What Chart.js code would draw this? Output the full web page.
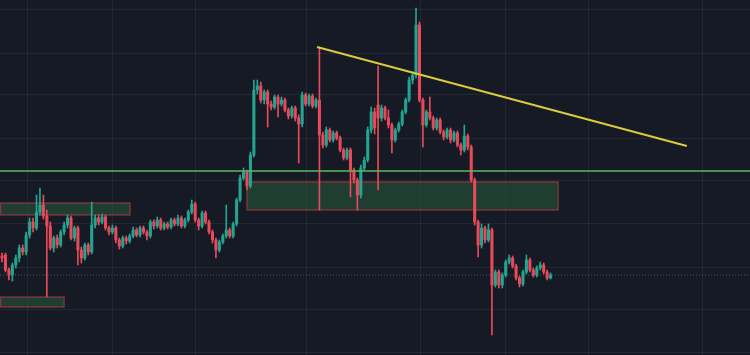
<!DOCTYPE html>
<html>
<head>
<meta charset="utf-8">
<script src="https://cdn.jsdelivr.net/npm/chart.js@4.4.1/dist/chart.umd.min.js"></script>
<style>
html, body { margin: 0; padding: 0; background: #161a25; }
#wrap { width: 750px; height: 355px; }
</style>
</head>
<body>
<div id="wrap"><canvas id="chart" width="750" height="355"></canvas></div>
<script>
// candle values, one entry per bar (index = bar number)
const opens = [
    144,145,130,125,135,142,152,148,165,178,
    172,188,195,184,174,152,162,155,168,175,
    182,162,172,150,142,155,148,175,182,178,
    183,172,168,172,160,154,162,159,164,170,
    165,172,168,164,178,174,180,172,176,173,
    180,176,182,174,180,188,196,180,174,187,
    178,168,160,150,158,164,170,164,176,200,
    222,228,214,245,310,314,300,308,296,293,
    303,296,300,290,284,292,282,276,305,296,
    304,294,300,265,255,270,260,267,262,250,
    242,250,230,220,205,232,240,270,288,295,
    282,292,282,275,260,270,276,288,300,320,
    325,375,300,275,288,282,272,280,268,263,
    270,260,267,255,250,264,253,220,178,155,
    172,160,170,115,128,115,125,138,142,134,
    122,116,128,140,130,125,132,135,128,122
];
const highs = [
    147,147,132,137,145,155,155,168,182,182,
    205,212,205,190,178,164,165,170,178,185,
    184,174,174,153,157,157,198,185,185,186,
    185,174,175,174,162,164,164,166,173,172,
    174,174,170,180,180,183,182,178,178,182,
    182,185,184,182,190,200,198,182,189,189,
    180,170,162,160,166,195,172,178,202,225,
    232,230,248,320,320,318,310,310,299,305,
    305,303,302,292,294,294,285,308,307,306,
    306,302,353,268,273,272,269,269,264,252,
    252,252,232,222,235,243,273,293,292,334,
    295,294,290,277,272,278,290,302,323,328,
    392,378,302,290,303,284,282,282,270,272,
    272,269,269,257,275,266,255,222,180,176,
    174,176,172,130,130,127,140,145,144,136,
    124,130,145,142,132,134,138,137,130,127
];
const lows = [
    138,128,120,119,132,138,145,145,162,168,
    170,185,181,103,150,148,152,153,165,172,
    160,159,135,137,140,145,146,172,175,176,
    170,165,166,157,151,152,156,157,162,163,
    163,166,160,162,171,172,170,170,171,171,
    174,174,172,172,178,186,178,170,172,176,
    166,157,142,148,156,162,162,162,174,198,
    220,210,212,243,306,297,296,273,290,291,
    283,294,288,281,282,279,237,273,294,294,
    292,292,190,252,253,258,258,260,248,240,
    240,203,217,190,202,230,238,267,266,210,
    279,280,272,247,258,268,274,286,298,316,
    322,298,253,273,280,270,270,266,260,261,
    257,258,253,245,248,250,218,175,143,152,
    157,158,65,113,112,112,123,136,132,120,
    113,114,126,128,123,123,130,126,120,121
];
const closes = [
    142,130,125,135,142,152,148,165,178,172,
    188,195,184,174,152,162,155,168,175,182,
    162,172,150,142,155,148,175,182,178,183,
    172,168,172,160,154,162,159,164,170,165,
    172,168,164,178,174,180,172,176,173,180,
    176,182,174,180,188,196,180,174,187,178,
    168,160,150,158,164,170,164,176,200,222,
    228,214,245,310,314,300,308,296,293,303,
    296,300,290,284,292,282,276,305,296,304,
    294,300,265,255,270,260,267,262,250,242,
    250,230,220,205,232,240,270,288,272,282,
    292,282,275,260,270,276,288,300,320,325,
    375,300,275,288,282,272,280,268,263,270,
    260,267,255,250,264,253,220,178,155,172,
    160,170,115,128,115,125,138,142,134,122,
    116,128,140,130,125,132,135,128,122,125
];

// drawings on top of the price
const supportLevel = 229;
const lastPrice = 125;
const trendX = [91.3, 198.5];
const trendY = [353, 254];
const zoneFrom = [-0.4, 71, -0.4];
const zoneTo = [37.1, 161.2, 18];
const zoneTop = [197, 218, 103];
const zoneBottom = [185, 190, 93];

// grid positions (bar index / price)
const gridX = [7.5, 31.9, 56.2, 88.4, 121.2, 145.8, 169.9, 202.9];
const gridY = [390, 347, 305, 262, 220, 177, 133, 91, 48];

const xMin = -0.58;
const xMax = 216.8;

const upColor = '#24a591';
const downColor = '#e84a5a';

const candleColors = closes.map((c, i) => c >= opens[i] ? upColor : downColor);

const zonePlugin = {
    id: 'zones',
    beforeDatasetsDraw(chart)
    {
        const xs = chart.scales.x;
        const ys = chart.scales.y;
        const ctx = chart.ctx;
        ctx.save();
        for (let i = 0; i < zoneFrom.length; i++)
        {
            const left = xs.getPixelForValue(zoneFrom[i]);
            const right = xs.getPixelForValue(zoneTo[i]);
            const top = ys.getPixelForValue(zoneTop[i]);
            const bottom = ys.getPixelForValue(zoneBottom[i]);
            ctx.fillStyle = 'rgba(40, 96, 62, 0.5)';
            ctx.fillRect(left, top, right - left, bottom - top);
            ctx.strokeStyle = 'rgba(178, 62, 70, 0.75)';
            ctx.lineWidth = 1.2;
            ctx.strokeRect(left, top, right - left, bottom - top);
        }
        ctx.restore();
    }
};

const gridColor = 'rgba(255, 255, 255, 0.06)';

function axis(min, max, ticks)
{
    return {
        type: 'linear',
        min: min,
        max: max,
        offset: false,
        grid: { color: gridColor, drawTicks: false, offset: false, lineWidth: 1 },
        border: { display: false },
        ticks: { display: false },
        afterBuildTicks: scale => { scale.ticks = ticks.map(v => ({ value: v })); }
    };
}

const ctx = document.getElementById('chart');

new Chart(ctx,
{
    type: 'bar',
    data: {
        datasets: [
            {
                type: 'line',
                data: [{ x: trendX[0], y: trendY[0] }, { x: trendX[1], y: trendY[1] }],
                borderColor: '#dccb3f',
                borderWidth: 2,
                pointRadius: 0,
                order: 0
            },
            {
                type: 'line',
                data: [{ x: xMin, y: supportLevel }, { x: xMax, y: supportLevel }],
                borderColor: '#5cb860',
                borderWidth: 1.5,
                pointRadius: 0,
                order: 0
            },
            {
                data: closes.map((c, i) => ({ x: i, y: [opens[i], c] })),
                backgroundColor: candleColors,
                barThickness: 2.4,
                minBarLength: 1,
                grouped: false,
                order: 1
            },
            {
                data: highs.map((h, i) => ({ x: i, y: [lows[i], h] })),
                backgroundColor: candleColors,
                barThickness: 1,
                grouped: false,
                order: 2
            },
            {
                type: 'line',
                data: [{ x: xMin, y: lastPrice }, { x: xMax, y: lastPrice }],
                borderColor: 'rgba(140, 150, 165, 0.5)',
                borderWidth: 1,
                borderDash: [1, 2],
                pointRadius: 0,
                order: 3
            }
        ]
    },
    options: {
        responsive: false,
        animation: false,
        events: [],
        layout: { padding: 0 },
        plugins: {
            legend: { display: false },
            tooltip: { enabled: false }
        },
        scales: {
            x: axis(xMin, xMax, gridX),
            y: axis(45, 400, gridY)
        }
    },
    plugins: [zonePlugin]
});
</script>
</body>
</html>
